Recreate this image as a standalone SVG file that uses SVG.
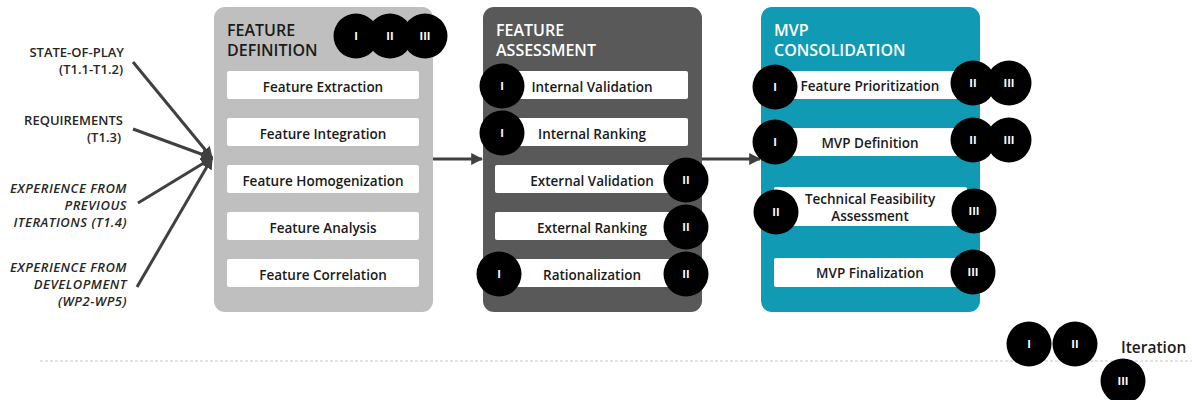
<svg xmlns="http://www.w3.org/2000/svg" width="1192" height="400" viewBox="0 0 1192 400">
  <style>
    text { font-family: "Open Sans", "Noto Sans", "Liberation Sans", sans-serif; font-weight: 600; }
    .input { font-size: 13px; fill: #262626; text-anchor: end; }
    .input-it { font-size: 13px; fill: #262626; text-anchor: end; font-style: italic; letter-spacing: 0.5px; }
    .title { font-size: 16px; font-weight: 600; }
    .item { font-size: 13.5px; fill: #1a1a1a; text-anchor: middle; }
    .card { fill: #ffffff; }
    .badge { fill: #000000; }
    .badge-label { font-size: 11px; font-weight: 700; fill: #ffffff; text-anchor: middle; }
    .link { stroke: #404040; stroke-width: 3; fill: none; }
  </style>
  <defs>
    <marker id="arrow" viewBox="0 0 10 10" refX="9" refY="5" markerWidth="4" markerHeight="4" orient="auto" markerUnits="strokeWidth">
      <path d="M0,0 L10,5 L0,10 z" fill="#404040"/>
    </marker>
    <g id="badge-I"><circle class="badge" r="22.5"/><text class="badge-label" y="4">I</text></g>
    <g id="badge-II"><circle class="badge" r="22.5"/><text class="badge-label" y="4">II</text></g>
    <g id="badge-III"><circle class="badge" r="22.5"/><text class="badge-label" y="4">III</text></g>
  </defs>

  <!-- inputs -->
  <g id="inputs">
    <text class="input" x="124" y="57">STATE-OF-PLAY</text>
    <text class="input" x="123" y="74">(T1.1-T1.2)</text>
    <text class="input" x="123" y="125">REQUIREMENTS</text>
    <text class="input" x="121" y="142">(T1.3)</text>
    <text class="input-it" x="127" y="193">EXPERIENCE FROM</text>
    <text class="input-it" x="127" y="210">PREVIOUS</text>
    <text class="input-it" x="127" y="227">ITERATIONS (T1.4)</text>
    <text class="input-it" x="127" y="272">EXPERIENCE FROM</text>
    <text class="input-it" x="127" y="289">DEVELOPMENT</text>
    <text class="input-it" x="127" y="306">(WP2-WP5)</text>
  </g>

  <!-- connectors -->
  <g id="connectors">
    <line class="link" x1="133" y1="62" x2="212" y2="158" marker-end="url(#arrow)"/>
    <line class="link" x1="133" y1="129" x2="212" y2="158" marker-end="url(#arrow)"/>
    <line class="link" x1="138" y1="203" x2="212" y2="158" marker-end="url(#arrow)"/>
    <line class="link" x1="137" y1="287" x2="212" y2="158" marker-end="url(#arrow)"/>
    <line class="link" x1="433" y1="159" x2="482" y2="159" marker-end="url(#arrow)"/>
    <line class="link" x1="702" y1="159" x2="760" y2="159" marker-end="url(#arrow)"/>
  </g>

  <!-- stage 1 -->
  <g id="feature-definition">
    <rect x="214" y="7" width="219" height="305" rx="11" fill="#bfbfbf"/>
    <text class="title" x="227" y="36" fill="#1a1a1a">FEATURE</text>
    <text class="title" x="227" y="56" fill="#1a1a1a">DEFINITION</text>
    <use href="#badge-I" x="356" y="36"/>
    <use href="#badge-II" x="390" y="36"/>
    <use href="#badge-III" x="425" y="36"/>
    <rect class="card" x="227" y="71" width="192" height="28" rx="2"/>
    <text class="item" x="323" y="92">Feature Extraction</text>
    <rect class="card" x="227" y="118" width="192" height="28" rx="2"/>
    <text class="item" x="323" y="139">Feature Integration</text>
    <rect class="card" x="227" y="165" width="192" height="28" rx="2"/>
    <text class="item" x="323" y="186">Feature Homogenization</text>
    <rect class="card" x="227" y="212" width="192" height="28" rx="2"/>
    <text class="item" x="323" y="233">Feature Analysis</text>
    <rect class="card" x="227" y="259" width="192" height="28" rx="2"/>
    <text class="item" x="323" y="280">Feature Correlation</text>
  </g>

  <!-- stage 2 -->
  <g id="feature-assessment">
    <rect x="483" y="7" width="219" height="305" rx="11" fill="#595959"/>
    <text class="title" x="496" y="36" fill="#ffffff">FEATURE</text>
    <text class="title" x="496" y="56" fill="#ffffff">ASSESSMENT</text>
    <rect class="card" x="495" y="71" width="193" height="28" rx="2"/>
    <text class="item" x="592" y="92">Internal Validation</text>
    <rect class="card" x="495" y="118" width="193" height="28" rx="2"/>
    <text class="item" x="592" y="139">Internal Ranking</text>
    <rect class="card" x="495" y="165" width="193" height="28" rx="2"/>
    <text class="item" x="592" y="186">External Validation</text>
    <rect class="card" x="495" y="212" width="193" height="28" rx="2"/>
    <text class="item" x="592" y="233">External Ranking</text>
    <rect class="card" x="495" y="259" width="193" height="28" rx="2"/>
    <text class="item" x="592" y="280">Rationalization</text>
    <use href="#badge-I" x="502" y="86"/>
    <use href="#badge-I" x="502" y="133"/>
    <use href="#badge-II" x="686" y="180"/>
    <use href="#badge-II" x="686" y="227"/>
    <use href="#badge-I" x="499" y="274"/>
    <use href="#badge-II" x="686" y="274"/>
  </g>

  <!-- stage 3 -->
  <g id="mvp-consolidation">
    <rect x="761" y="7" width="219" height="305" rx="11" fill="#119ab4"/>
    <text class="title" x="774" y="36" fill="#ffffff">MVP</text>
    <text class="title" x="774" y="56" fill="#ffffff">CONSOLIDATION</text>
    <rect class="card" x="774" y="71" width="193" height="28" rx="2"/>
    <text class="item" x="870" y="91">Feature Prioritization</text>
    <rect class="card" x="774" y="128" width="193" height="28" rx="2"/>
    <text class="item" x="870" y="148">MVP Definition</text>
    <rect class="card" x="774" y="187" width="193" height="39" rx="2"/>
    <text class="item" x="870" y="204">Technical Feasibility</text>
    <text class="item" x="870" y="221">Assessment</text>
    <rect class="card" x="774" y="258" width="193" height="29" rx="2"/>
    <text class="item" x="870" y="278">MVP Finalization</text>
    <use href="#badge-I" x="775" y="87"/>
    <use href="#badge-II" x="973" y="83"/>
    <use href="#badge-III" x="1009" y="83"/>
    <use href="#badge-I" x="775" y="142"/>
    <use href="#badge-II" x="973" y="140"/>
    <use href="#badge-III" x="1009" y="140"/>
    <use href="#badge-II" x="776" y="212"/>
    <use href="#badge-III" x="974" y="211"/>
    <use href="#badge-III" x="973" y="272"/>
  </g>

  <!-- legend -->
  <g id="legend">
    <line x1="40" y1="361" x2="1192" y2="361" stroke="#c8c8c8" stroke-width="1" stroke-dasharray="3 2"/>
    <use href="#badge-I" x="1029" y="344"/>
    <use href="#badge-II" x="1075" y="344"/>
    <use href="#badge-III" x="1123" y="381"/>
    <text x="1121" y="353" font-size="15.5" fill="#1a1a1a">Iteration</text>
  </g>
</svg>
